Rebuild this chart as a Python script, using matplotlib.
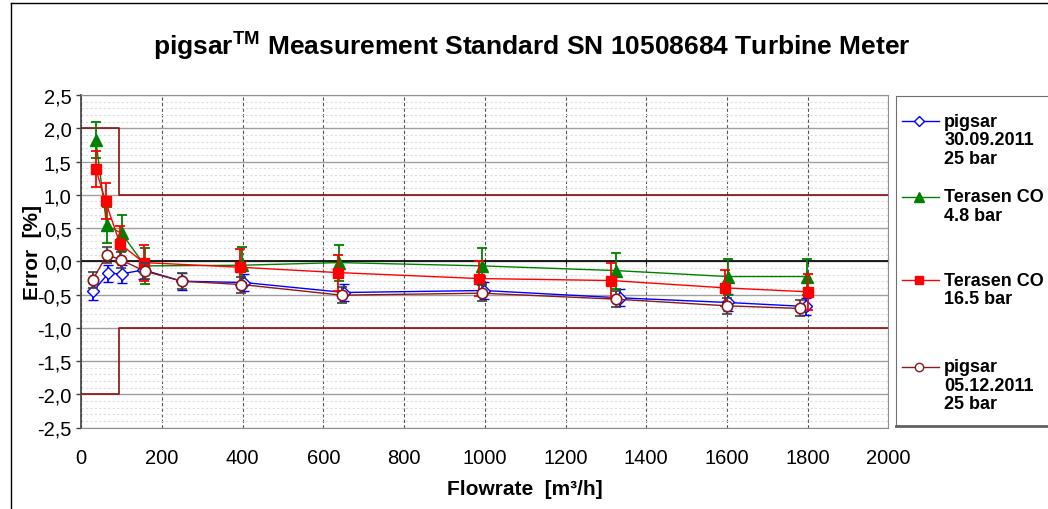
import numpy as np
import matplotlib
matplotlib.use("Agg")
import matplotlib.pyplot as plt
from matplotlib.lines import Line2D
from matplotlib.ticker import FuncFormatter, MultipleLocator, NullFormatter

plt.rcParams["font.family"] = ["Liberation Sans", "DejaVu Sans"]
plt.rcParams["mathtext.fontset"] = "custom"
plt.rcParams["mathtext.rm"] = "Liberation Sans"
plt.rcParams["mathtext.bf"] = "Liberation Sans:bold"

# data
# pigsar 30.09.2011, 25 bar
x_p1 = [30, 67, 100, 154, 249, 404, 652, 998, 1335, 1602, 1795]
y_p1 = [-0.45, -0.18, -0.19, -0.13, -0.30, -0.32, -0.47, -0.44, -0.55, -0.62, -0.68]
e_p1 = 0.13
# Terasen CO, 4.8 bar
x_t48 = [36, 63, 100, 158, 398, 639, 994, 1324, 1602, 1798]
y_t48 = [1.82, 0.54, 0.42, -0.07, -0.06, -0.02, -0.07, -0.14, -0.23, -0.23]
e_t48 = 0.27
# Terasen CO, 16.5 bar
x_t165 = [36, 60, 96, 155, 393, 635, 986, 1314, 1595, 1802]
y_t165 = [1.39, 0.90, 0.26, -0.02, -0.09, -0.17, -0.26, -0.29, -0.40, -0.46]
e_t165 = 0.27
# pigsar 05.12.2011, 25 bar
x_p2 = [28, 64, 98, 158, 249, 397, 645, 992, 1325, 1600, 1781]
y_p2 = [-0.28, 0.10, 0.02, -0.15, -0.30, -0.35, -0.51, -0.48, -0.57, -0.67, -0.71]
e_p2 = 0.12

# error limits (step at transition flow)
lim_x = [0, 93, 93, 2000]
lim_up = [2.0, 2.0, 1.0, 1.0]
lim_lo = [-2.0, -2.0, -1.0, -1.0]

x_ticks = np.arange(0, 2001, 200)
y_ticks = np.arange(-2.5, 2.51, 0.5)

legend_labels = [
    ["pigsar", "30.09.2011", "25 bar"],
    ["Terasen CO", "4.8 bar"],
    ["Terasen CO", "16.5 bar"],
    ["pigsar", "05.12.2011", "25 bar"],
]

W, H = 1048, 510
fig = plt.figure(figsize=(W / 100, H / 100), dpi=100)


def fx(px):
    return px / W


def fy(py):
    return 1 - py / H


ax = fig.add_axes([fx(81.3), fy(428.5), fx(888.3 - 81.3), (428.5 - 96) / H])
ax.set_xlim(0, 2000)
ax.set_ylim(-2.5, 2.5)

ax.set_xticks(x_ticks)
ax.set_yticks(y_ticks)
ax.yaxis.set_minor_locator(MultipleLocator(0.1))
ax.yaxis.set_major_formatter(FuncFormatter(lambda v, p: f"{v:.1f}".replace(".", ",")))
ax.tick_params(axis="x", length=0, pad=15, labelsize=14.5)
ax.tick_params(axis="y", which="major", length=3.5, width=1, color="#404040",
               pad=3.5, labelsize=14.5)
ax.tick_params(axis="y", which="minor", length=0)

ax.grid(which="minor", axis="y", color="#dcdcdc", lw=0.8, ls=(0, (2, 2)))
ax.grid(which="major", axis="y", color="#a0a0a0", lw=1.0, ls="-")
ax.grid(which="major", axis="x", color="#555555", lw=0.8, ls=(0, (3, 2)))
ax.set_axisbelow(True)

for side in ["top", "right", "bottom"]:
    ax.spines[side].set_color("#909090")
ax.spines["left"].set_color("#404040")
ax.spines["left"].set_linewidth(1.2)

# zero axis with crossing ticks
ax.axhline(0, color="black", lw=1.2, zorder=1)
sec = ax.secondary_xaxis(0.5)
sec.set_xticks(x_ticks)
sec.xaxis.set_major_formatter(NullFormatter())
sec.tick_params(direction="inout", length=5, color="black")
sec.spines["bottom"].set_color("black")

# tolerance limits
ax.plot(lim_x, lim_up, color="#8b1010", lw=1.2, zorder=2)
ax.plot(lim_x, lim_lo, color="#8b1010", lw=1.2, zorder=2)

ax.errorbar(x_p1, y_p1, yerr=e_p1, color="#0000ff", lw=1, marker="D", ms=6,
            mfc="white", mec="#0000ff", mew=1, ecolor="#0000ff", elinewidth=1.3,
            capsize=3.7, capthick=1.3, zorder=3)
ax.errorbar(x_t48, y_t48, yerr=e_t48, color="#008000", lw=1, marker="^", ms=8.5,
            mfc="#008000", mec="#008000", ecolor="#008000", elinewidth=1.3,
            capsize=3.7, capthick=1.3, zorder=4)
ax.errorbar(x_t165, y_t165, yerr=e_t165, color="#ff0000", lw=1, marker="s", ms=7,
            mfc="#ff0000", mec="#ff0000", ecolor="#ff0000", elinewidth=1.3,
            capsize=3.7, capthick=1.3, zorder=5)
ax.errorbar(x_p2, y_p2, yerr=e_p2, color="#8b1a1a", lw=1, marker="o", ms=7.5,
            mfc="white", mec="#8b1a1a", mew=1.2, ecolor="#404040", elinewidth=1.3,
            capsize=3.7, capthick=1.3, zorder=6)

# titles / labels
fig.text(fx(532), fy(46), r"pigsar$^{\mathbf{TM}}$ Measurement Standard SN 10508684 Turbine Meter",
         ha="center", va="center", fontsize=19, fontweight="bold")
fig.text(fx(525), fy(490), "Flowrate  [m³/h]", ha="center", va="center",
         fontsize=15, fontweight="bold")
fig.text(fx(32), fy(252), "Error  [%]", ha="center", va="center", rotation=90,
         fontsize=15, fontweight="bold")

# legend box (manual, clipped by figure edge like the original)
leg = fig.add_axes([fx(896), fy(427.3), fx(1080 - 896), (427.3 - 97.3) / H])
leg.set_xlim(0, 1080 - 896)
leg.set_ylim(427.3 - 97.3, 0)
leg.set_xticks([])
leg.set_yticks([])
for side in ["top", "left"]:
    leg.spines[side].set_color("#707070")
leg.spines["bottom"].set_color("#606060")
leg.spines["bottom"].set_linewidth(2)

handles = [
    dict(color="#0000ff", marker="D", ms=5, mfc="white", mec="#0000ff"),
    dict(color="#008000", marker="^", ms=7, mfc="#008000", mec="#008000"),
    dict(color="#ff0000", marker="s", ms=6, mfc="#ff0000", mec="#ff0000"),
    dict(color="#8b1a1a", marker="o", ms=6, mfc="white", mec="#8b1a1a"),
]
entry_y = [25, 100.7, 183.7, 270.7]
for y0, lines, h in zip(entry_y, legend_labels, handles):
    leg.add_line(Line2D([5.7, 43], [y0, y0], lw=1, color=h["color"]))
    leg.add_line(Line2D([23], [y0], lw=0, **h))
    for i, t in enumerate(lines):
        leg.text(48.3, y0 + i * 18.5, t, ha="left", va="center",
                 fontsize=13, fontweight="bold")

# outer chart border
fig.add_artist(Line2D([fx(11), fx(11)], [fy(4), 0], color="black", lw=1))
fig.add_artist(Line2D([fx(11), 1], [fy(4), fy(4)], color="black", lw=1))

fig.savefig("out.png", dpi=100)
